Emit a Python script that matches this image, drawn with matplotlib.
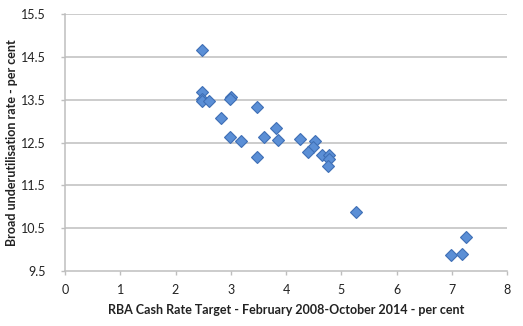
import matplotlib
matplotlib.use("Agg")
import matplotlib.pyplot as plt

plt.rcParams['font.family'] = ['Lato', 'DejaVu Sans']

cash_rate = [2.48, 2.48, 2.48, 2.48, 2.61, 3.00, 2.99, 3.47, 2.83, 2.99, 3.18, 3.48,
             3.61, 3.81, 3.85, 4.25, 4.52, 4.49, 4.40, 4.65, 4.77, 4.77, 4.76,
             5.27, 7.26, 6.98, 7.19]
underutil = [14.66, 13.67, 13.51, 13.47, 13.47, 13.57, 13.51, 13.33, 13.08, 12.62, 12.53, 12.17,
             12.62, 12.85, 12.56, 12.59, 12.53, 12.40, 12.28, 12.20, 12.20, 12.11, 11.96,
             10.88, 10.30, 9.88, 9.89]
x_ticks = [0, 1, 2, 3, 4, 5, 6, 7, 8]
y_ticks = [9.5, 10.5, 11.5, 12.5, 13.5, 14.5, 15.5]

fig = plt.figure(figsize=(5.23, 3.26), dpi=100)
ax = fig.add_axes([65/523, 1-271/326, (507-65)/523, (271-14)/326])

ax.plot(cash_rate, underutil, linestyle='none', marker='D', markersize=5.8,
        markerfacecolor='#5B8FD6', markeredgecolor='#3F6FB5', markeredgewidth=0.8, zorder=3)

ax.set_xlim(0, 8)
ax.set_ylim(9.5, 15.5)
ax.set_xticks(x_ticks)
ax.set_yticks(y_ticks)
ax.set_xticklabels([str(t) for t in x_ticks])
ax.set_yticklabels([f"{t:.1f}" for t in y_ticks])

for y in y_ticks[1:]:
    ax.axhline(y, color='#BEBEBE', linewidth=1.1, zorder=1)

for s in ['top', 'right']:
    ax.spines[s].set_visible(False)
for s in ['left', 'bottom']:
    ax.spines[s].set_color('#BEBEBE')
    ax.spines[s].set_linewidth(1.1)

ax.tick_params(axis='both', colors='#BEBEBE', length=3, width=1, labelsize=9, labelcolor='#222222')
ax.tick_params(axis='x', pad=6)
ax.tick_params(axis='y', pad=11)

ax.set_xlabel('RBA Cash Rate Target - February 2008-October 2014 - per cent',
              fontsize=9, fontweight='bold', labelpad=6, color='#222222')
ax.set_ylabel('Broad underutilisation rate - per cent',
              fontsize=9, fontweight='bold', labelpad=2, color='#222222')

fig.savefig('out.png', dpi=100)
